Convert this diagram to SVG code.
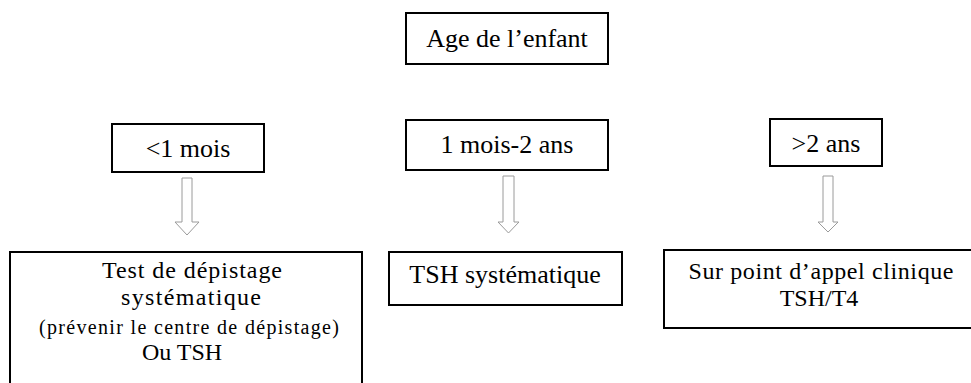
<svg xmlns="http://www.w3.org/2000/svg" width="971" height="383" viewBox="0 0 971 383">
<style>
.box{fill:#fff;stroke:#000;stroke-width:2}
text{font-family:"Liberation Serif",serif;font-size:26px;fill:#000;text-anchor:middle}
text.m{font-size:24px}
text.s{font-size:20px}
.arr{fill:#fff;stroke:#9a9a9a;stroke-width:1}
</style>
<rect width="971" height="383" fill="#fff"/>
<g id="age">
<rect class="box" x="406" y="13" width="202" height="51"/>
<text x="507" y="47">Age de l’enfant</text>
</g>
<g id="lt1">
<rect class="box" x="112" y="124" width="152" height="48"/>
<text x="188" y="157">&lt;1 mois</text>
</g>
<g id="m1a2">
<rect class="box" x="406" y="120" width="202" height="50"/>
<text x="507" y="153">1 mois-2 ans</text>
</g>
<g id="gt2">
<rect class="box" x="770" y="119" width="112" height="47"/>
<text x="826" y="152">&gt;2 ans</text>
</g>
<g id="test">
<rect class="box" x="10" y="252" width="352" height="140"/>
<text class="m" x="192" y="278" textLength="180" lengthAdjust="spacing">Test de dépistage</text>
<text class="m" x="191" y="305" textLength="140" lengthAdjust="spacing">systématique</text>
<text class="s" x="189" y="334" textLength="300" lengthAdjust="spacing">(prévenir le centre de dépistage)</text>
<text class="m" x="182" y="360">Ou TSH</text>
</g>
<g id="tsh">
<rect class="box" x="389" y="252" width="233" height="53"/>
<text x="505" y="283">TSH systématique</text>
</g>
<g id="clin">
<rect class="box" x="664" y="250" width="320" height="78"/>
<text class="m" x="821" y="279" textLength="265" lengthAdjust="spacing">Sur point d’appel clinique</text>
<text class="m" x="819" y="306">TSH/T4</text>
</g>
<g id="connectors">
<path class="arr" d="M182,178 H192 V222 H199 L187,235 L175,222 H182 Z"/>
<path class="arr" d="M503,176 H514 V222 H519 L508.5,233 L498,222 H503 Z"/>
<path class="arr" d="M823,176 H833 V222 H838 L828,232 L818,222 H823 Z"/>
</g>
</svg>
